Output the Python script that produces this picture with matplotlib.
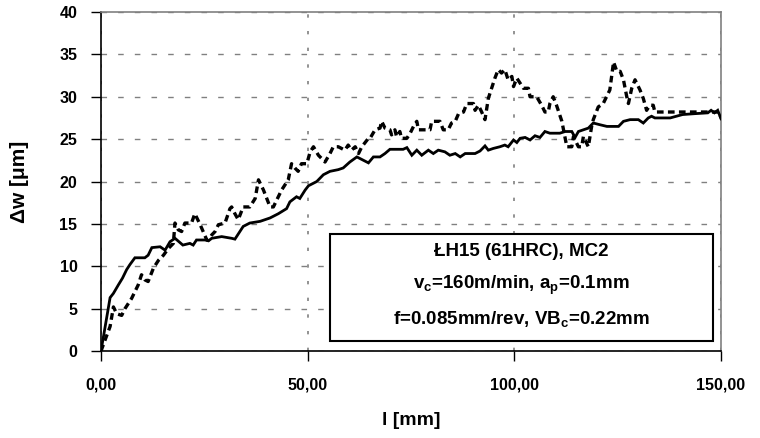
import matplotlib
matplotlib.use('Agg')
import matplotlib.pyplot as plt
from matplotlib.patches import Rectangle

plt.rcParams['font.family'] = ['Liberation Sans', 'DejaVu Sans']
plt.rcParams['font.weight'] = 'bold'
plt.rcParams['mathtext.fontset'] = 'custom'
plt.rcParams['mathtext.rm'] = 'Liberation Sans:bold'
plt.rcParams['mathtext.it'] = 'Liberation Sans:bold'
plt.rcParams['mathtext.bf'] = 'Liberation Sans:bold'

solid_l = [0, 2.2, 3.0, 4.2, 5.2, 6.2, 7.0, 8.2, 10.6, 11.4, 12.3, 14.3, 15.5, 16.7,
           17.9, 19.8, 21.5, 22.3, 23.1, 25.2, 26.0, 26.8, 29.2, 31.6, 32.4, 34.4,
           36.0, 38.5, 40.9, 42.9, 44.9, 45.7, 47.3, 48.1, 49.4, 50.2, 52.2, 53.8,
           55.4, 57.4, 58.6, 60.2, 61.9, 63.5, 64.7, 65.9, 67.5, 68.7, 69.9, 73.1,
           74.0, 75.2, 76.4, 77.6, 79.2, 80.4, 81.6, 83.2, 84.4, 85.7, 86.9, 88.1,
           90.5, 91.7, 92.9, 93.7, 94.9, 96.5, 97.7, 98.5, 99.8, 100.6, 101.4, 102.6,
           103.8, 105.0, 106.2, 107.4, 108.6, 111.0, 112.3, 113.9, 114.7, 115.5,
           116.7, 117.9, 119.1, 120.7, 122.4, 125.2, 126.4, 128.0, 130.0, 131.2,
           132.4, 133.2, 134.0, 137.7, 140.7, 143.5, 146.8, 147.6, 148.4, 149.2, 150.0]
solid_w = [0, 6.3, 6.8, 7.8, 8.6, 9.6, 10.2, 11.0, 11.0, 11.3, 12.2, 12.3, 11.9, 12.9,
           13.3, 12.5, 12.7, 12.5, 13.1, 13.1, 13.0, 13.3, 13.5, 13.3, 13.2, 14.7,
           15.1, 15.3, 15.7, 16.2, 16.8, 17.6, 18.2, 18.0, 19.0, 19.5, 20.0, 20.8,
           21.2, 21.4, 21.6, 22.3, 22.9, 22.5, 22.2, 22.9, 22.9, 23.3, 23.8, 23.8,
           24.0, 23.1, 23.7, 23.1, 23.7, 23.3, 23.7, 23.5, 23.1, 23.3, 22.9, 23.3,
           23.3, 23.6, 24.2, 23.7, 23.9, 24.1, 24.3, 24.1, 24.9, 24.6, 25.1, 25.2,
           24.9, 25.4, 25.2, 25.9, 25.7, 25.7, 25.9, 25.9, 25.2, 25.9,
           26.1, 26.3, 26.9, 26.7, 26.5, 26.5, 27.1, 27.3, 27.3, 26.9,
           27.5, 27.7, 27.5, 27.5, 27.9, 28.0, 28.1, 28.4, 28.1, 28.4, 27.4]

dash_l = [0, 2.2, 3.0, 3.8, 5.0, 5.8, 7.4, 9.0, 9.8, 10.6, 11.4, 12.7, 13.9, 15.1,
          16.3, 17.5, 17.9, 18.7, 19.5, 20.3, 21.9, 22.7, 24.0, 25.6, 26.0, 26.8,
          27.6, 28.4, 30.0, 31.2, 31.6, 32.4, 33.2, 34.4, 36.0, 37.3, 38.1, 39.3,
          40.9, 41.7, 42.9, 43.7, 45.3, 46.1, 46.9, 47.7, 48.5, 49.8, 50.6, 51.4,
          52.6, 54.2, 55.4, 56.2, 57.4, 59.0, 59.8, 60.6, 61.5, 62.3, 63.1, 64.7,
          65.1, 66.3, 67.5, 67.9, 68.7, 69.9, 70.3, 71.1, 71.5, 72.3, 72.7, 74.0,
          74.8, 75.6, 76.4, 76.8, 79.6, 80.0, 82.0, 82.8, 84.0, 84.8, 85.7, 86.5,
          87.7, 88.5, 90.1, 90.5, 91.3, 92.1, 92.9, 93.7, 94.5, 95.3, 96.1, 96.9,
          97.7, 98.5, 99.4, 99.8, 100.6, 101.4, 102.2, 103.4, 103.8, 105.4, 106.6,
          107.4, 108.2, 108.6, 109.4, 110.2, 111.5, 112.7, 113.9, 114.3, 115.5,
          116.3, 116.7, 117.9, 118.7, 119.1, 120.3, 121.5, 123.1, 124.0, 124.8,
          125.6, 126.4, 127.2, 127.6, 128.4, 129.2, 130.4, 131.2, 132.0, 132.8,
          133.6, 134.0, 140.0, 145.0, 149.5, 150.0]
dash_w = [0, 2.9, 5.2, 4.4, 4.2, 5.0, 6.2, 7.8, 9.0, 8.4, 8.2, 9.8, 10.7, 11.3,
          12.1, 12.7, 15.1, 14.3, 14.1, 15.1, 15.1, 16.2, 14.9, 13.1, 13.1, 13.7,
          14.1, 14.9, 15.1, 16.8, 17.0, 16.2, 15.5, 17.0, 17.0, 18.0, 20.2, 19.0,
          17.0, 17.0, 18.2, 19.0, 20.2, 22.1, 21.6, 21.2, 22.1, 22.1, 23.5, 24.1,
          23.1, 22.3, 23.3, 24.1, 24.1, 23.7, 24.3, 23.7, 24.1, 23.3, 24.1, 25.1,
          25.1, 26.1, 26.3, 27.1, 26.3, 26.1, 25.5, 26.1, 25.3, 25.9, 25.1, 25.1,
          25.7, 26.5, 27.1, 26.1, 26.1, 27.1, 27.1, 26.1, 26.1, 26.9, 27.1, 28.0,
          28.2, 29.2, 29.2, 28.4, 29.0, 28.2, 27.3, 29.8, 31.0, 32.2, 33.2, 32.8,
          33.2, 32.0, 32.4, 31.2, 32.2, 31.6, 31.0, 31.0, 30.0, 30.0, 29.0,
          28.2, 28.2, 29.2, 30.0, 29.0, 27.1, 24.1, 24.1, 25.3, 24.1,
          24.1, 25.3, 24.1, 26.5, 27.3, 28.8, 29.2, 30.8, 34.1, 33.0,
          33.0, 32.0, 30.0, 29.2, 31.0, 32.0, 30.8, 29.8, 28.4, 29.0,
          29.0, 28.2, 28.2, 28.2, 28.2, 27.5]

x_ticks = [0, 50, 100, 150]
x_tick_labels = ['0,00', '50,00', '100,00', '150,00']
y_ticks = [0, 5, 10, 15, 20, 25, 30, 35, 40]

fig = plt.figure(figsize=(7.6, 4.38), dpi=100)
ax = fig.add_axes([0.1329, 0.1986, 0.8158, 0.774])

ax.plot(solid_l, solid_w, color='black', lw=2.0, solid_joinstyle='miter', zorder=3)
ax.plot(dash_l, dash_w, color='black', lw=2.4, linestyle=(0, (2.0, 1.3)), zorder=3)

ax.set_xlim(0, 150)
ax.set_ylim(0, 40)
ax.set_xticks(x_ticks)
ax.set_xticklabels(x_tick_labels)
ax.set_yticks(y_ticks)
ax.tick_params(axis='both', direction='out', length=7, width=1, labelsize=11.5, colors='black')
ax.tick_params(axis='x', pad=12)
ax.tick_params(axis='y', pad=10)

ax.yaxis.grid(True, color='#808080', linestyle=(0, (4, 8)), lw=1)
ax.xaxis.grid(True, color='#808080', linestyle=(0, (2, 8)), lw=1.2)
ax.set_axisbelow(True)

for s in ['top', 'right']:
    ax.spines[s].set_color('#808080')
    ax.spines[s].set_linewidth(1.2)
for s in ['left', 'bottom']:
    ax.spines[s].set_color('black')
    ax.spines[s].set_linewidth(1.2)

ax.set_xlabel('l [mm]', fontsize=14, fontweight='bold', labelpad=14)
ax.set_ylabel('Δw [μm]', fontsize=15, fontweight='bold', labelpad=22)

# parameter box
ax.add_patch(Rectangle((55.4, 1.2), 92.7, 12.6, facecolor='white', edgecolor='black',
                       lw=1.5, zorder=4))
ax.text(101.7, 11.8, 'ŁH15 (61HRC), MC2', ha='center', va='center', fontsize=13.5,
        fontweight='bold', zorder=5)
ax.text(101.7, 7.8, 'v$_{c}$=160m/min, a$_{p}$=0.1mm', ha='center', va='center',
        fontsize=13.5, fontweight='bold', zorder=5)
ax.text(101.7, 3.8, 'f=0.085mm/rev, VB$_{c}$=0.22mm', ha='center', va='center',
        fontsize=13.5, fontweight='bold', zorder=5)

fig.savefig('out.png', dpi=100)
